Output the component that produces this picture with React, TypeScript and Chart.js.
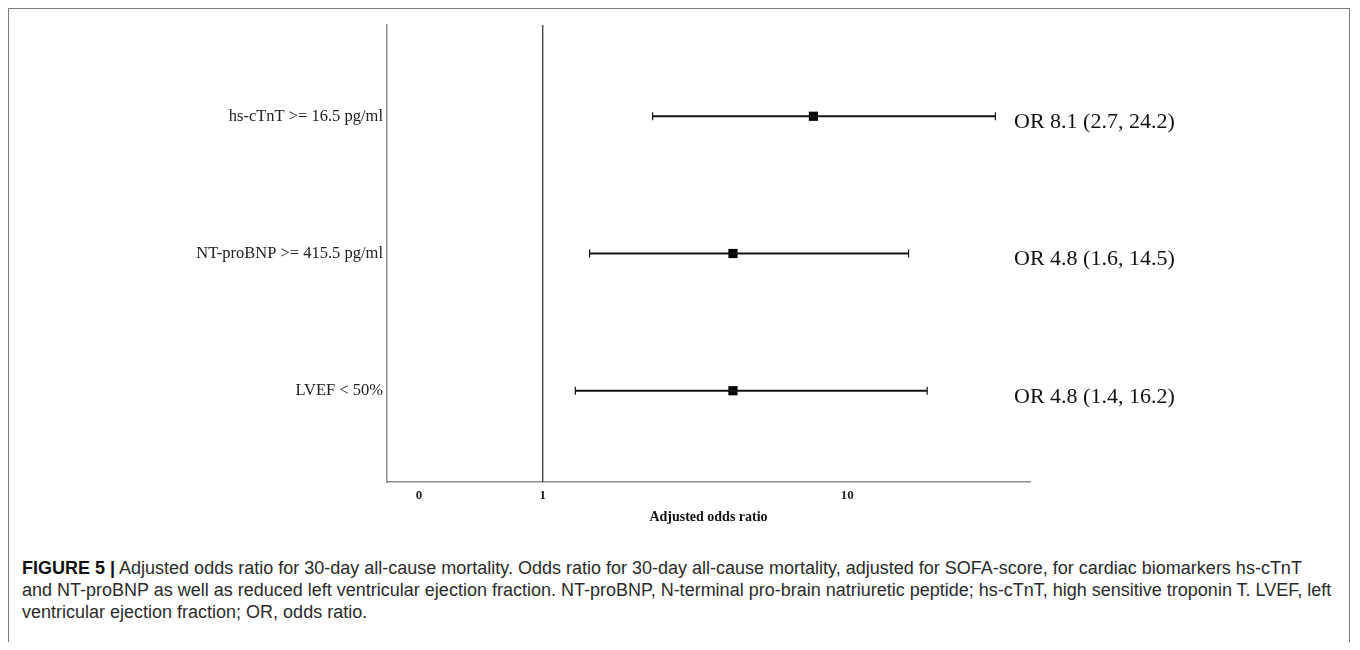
import React, { useEffect, useRef } from "react";
import { Chart, registerables } from "chart.js";

Chart.register(...registerables);

// ---- data ----
const categories = ["hs-cTnT >= 16.5 pg/ml", "NT-proBNP >= 415.5 pg/ml", "LVEF < 50%"];
const rowPositions = [3, 2, 1];
const oddsRatios = [8.1, 4.8, 4.8];
const ciLower = [2.7, 1.6, 1.4];
const ciUpper = [24.2, 14.5, 16.2];
const orLabels = ["OR 8.1 (2.7, 24.2)", "OR 4.8 (1.6, 14.5)", "OR 4.8 (1.4, 16.2)"];
const xTickValues = [0, 1, 10];
const xTickLabels = ["0", "1", "10"];
const referenceValue = 1;

// axis transform used by the original plot: log10(OR + 1)
const tf = (v: number) => Math.log10(v + 1);

const Y_MIN = 0.335;
const Y_MAX = 3.665;

const SERIF = "'Liberation Serif', 'Times New Roman', serif";

export default function App() {
  const canvasRef = useRef<HTMLCanvasElement | null>(null);

  useEffect(() => {
    if (!canvasRef.current) return;

    const whiskerSets = categories.map((_, i) => ({
      type: "line" as const,
      data: [
        { x: tf(ciLower[i]), y: rowPositions[i] },
        { x: tf(ciUpper[i]), y: rowPositions[i] },
      ],
      borderColor: "#141414",
      borderWidth: 2,
      pointStyle: "line" as const,
      rotation: 90,
      pointRadius: 4,
      pointBorderWidth: 1.2,
      pointBorderColor: "#141414",
      pointHoverRadius: 4,
      showLine: true,
      fill: false,
    }));

    const refSet = {
      type: "line" as const,
      data: [
        { x: tf(referenceValue), y: Y_MIN },
        { x: tf(referenceValue), y: Y_MAX },
      ],
      borderColor: "#2a2a2a",
      borderWidth: 1.2,
      pointRadius: 0,
      showLine: true,
      fill: false,
    };

    const pointSet = {
      type: "scatter" as const,
      data: categories.map((_, i) => ({ x: tf(oddsRatios[i]), y: rowPositions[i] })),
      pointStyle: "rect" as const,
      pointRadius: 6.5,
      pointHoverRadius: 6.5,
      backgroundColor: "#000",
      borderColor: "#000",
      borderWidth: 0,
    };

    const orTextPlugin = {
      id: "orText",
      afterDatasetsDraw(chart: any) {
        const { ctx, chartArea, scales } = chart;
        ctx.save();
        ctx.font = `22px ${SERIF}`;
        ctx.fillStyle = "#111";
        ctx.textAlign = "left";
        ctx.textBaseline = "middle";
        orLabels.forEach((t, i) => {
          const y = scales.y.getPixelForValue(rowPositions[i]) + 6;
          ctx.fillText(t, chartArea.right - 16, y);
        });
        ctx.restore();
      },
    };

    const chart = new Chart(canvasRef.current, {
      type: "scatter",
      data: { datasets: [refSet, ...whiskerSets, pointSet] as any },
      options: {
        animation: false,
        responsive: false,
        events: [],
        layout: { padding: { top: 16, right: 319, left: 0, bottom: 0 } },
        plugins: {
          legend: { display: false },
          tooltip: { enabled: false },
        },
        scales: {
          x: {
            type: "linear",
            min: -0.0776,
            max: 1.4855,
            grid: { display: false, drawTicks: false, tickLength: 0 },
            border: { display: true, color: "#8c8c8c", width: 1.5 },
            afterBuildTicks: (scale: any) => {
              scale.ticks = xTickValues.map((v) => ({ value: tf(v) }));
            },
            afterFit: (scale: any) => {
              scale.height = 57;
            },
            ticks: {
              padding: 6,
              autoSkip: false,
              maxRotation: 0,
              color: "#222",
              font: { family: SERIF, size: 13, weight: "bold" },
              callback: (_v: any, i: number) => xTickLabels[i],
            },
            title: {
              display: true,
              text: "Adjusted odds ratio",
              color: "#111",
              font: { family: SERIF, size: 14, weight: "bold" },
              padding: { top: 0, bottom: 13 },
            },
          },
          y: {
            type: "linear",
            min: Y_MIN,
            max: Y_MAX,
            grid: { display: false, drawTicks: false, tickLength: 0 },
            border: { display: true, color: "#8c8c8c", width: 1.5 },
            afterBuildTicks: (scale: any) => {
              scale.ticks = rowPositions.map((v) => ({ value: v }));
            },
            afterFit: (scale: any) => {
              scale.width = 378;
            },
            ticks: {
              padding: 4,
              autoSkip: false,
              color: "#222",
              font: { family: SERIF, size: 16.5 },
              callback: (_v: any, i: number) => categories[i],
            },
          },
        },
      } as any,
      plugins: [orTextPlugin],
    });

    return () => chart.destroy();
  }, []);

  return (
    <div
      style={{
        border: "1px solid #7a7a7a",
        borderBottom: "none",
        width: 1340,
        height: 633,
        boxSizing: "content-box",
        background: "#fff",
        overflow: "hidden",
      }}
    >
      <div style={{ width: 1340, height: 530 }}>
        <canvas ref={canvasRef} width={1340} height={530} style={{ display: "block" }} />
      </div>
      <div
        style={{
          marginTop: 18,
          paddingLeft: 13,
          fontFamily: "'Liberation Sans', Arial, sans-serif",
          fontSize: 18,
          lineHeight: "22px",
          color: "#2b2b2b",
          whiteSpace: "nowrap",
        }}
      >
        <b style={{ color: "#111" }}>FIGURE 5 |</b> Adjusted odds ratio for 30-day all-cause mortality. Odds ratio for 30-day all-cause mortality, adjusted for SOFA-score, for cardiac biomarkers hs-cTnT
        <br />
        and NT-proBNP as well as reduced left ventricular ejection fraction. NT-proBNP, N-terminal pro-brain natriuretic peptide; hs-cTnT, high sensitive troponin T. LVEF, left
        <br />
        ventricular ejection fraction; OR, odds ratio.
      </div>
    </div>
  );
}
